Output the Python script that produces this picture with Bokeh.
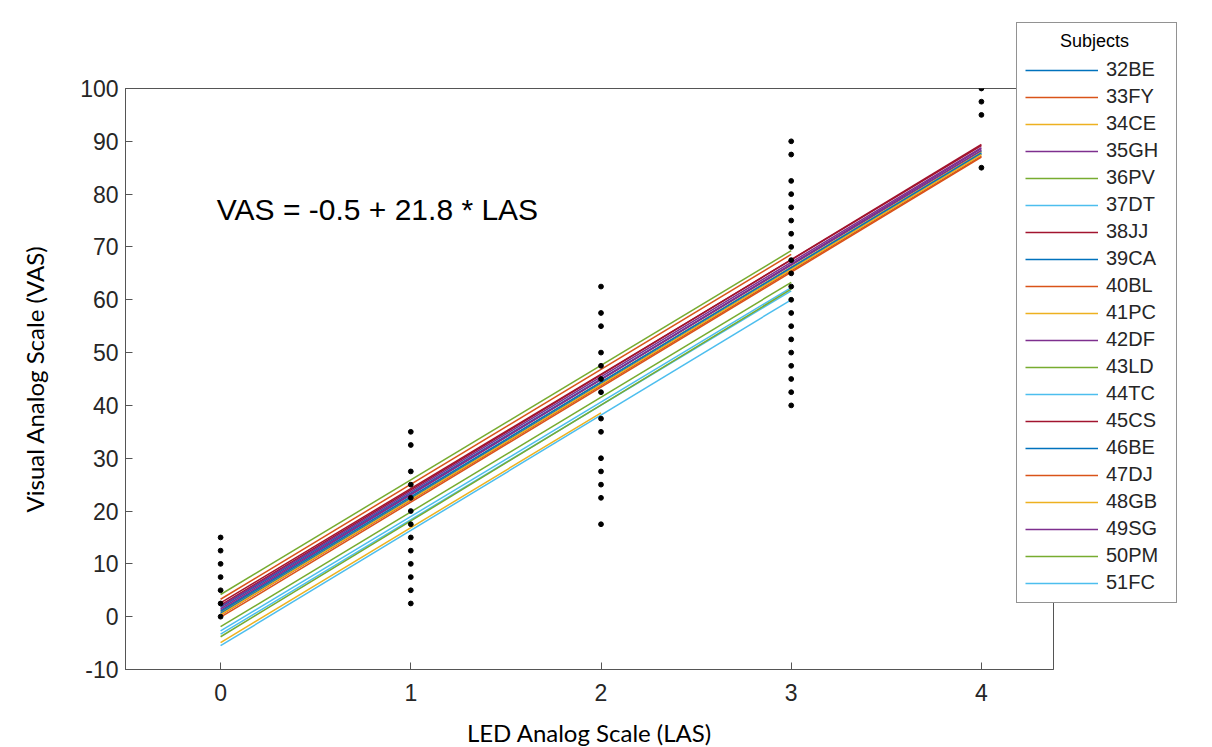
from bokeh.plotting import figure
from bokeh.models import FixedTicker, Label, Legend, LegendItem, CustomJSTickFormatter
from bokeh.embed import file_html
from bokeh.resources import INLINE

# ---- data ----
subjects = ["32BE", "33FY", "34CE", "35GH", "36PV", "37DT", "38JJ", "39CA", "40BL", "41PC",
            "42DF", "43LD", "44TC", "45CS", "46BE", "47DJ", "48GB", "49SG", "50PM", "51FC"]
# fitted line per subject: VAS at LAS=0, last LAS level, VAS at last LAS level
start_vas = [1.8, 3.3, 0.8, 1.2, 4.2, -2.7, 2.2, 0.6, -0.1, -4.9,
             1.5, -1.9, -3.3, 2.6, 1.0, 0.3, 0.4, 2.0, -3.8, -5.5]
end_las = [4, 3, 4, 4, 3, 3, 4, 4, 4, 2,
           4, 3, 3, 4, 4, 4, 4, 4, 3, 3]
end_vas = [88.2, 68.6, 88.0, 88.6, 69.3, 62.3, 89.4, 87.6, 87.0, 38.6,
           88.3, 63.3, 61.7, 89.2, 87.8, 87.2, 87.5, 88.8, 62.0, 60.0]

# observed ratings
obs_las = ([0] * 7 + [1] * 13 + [2] * 14 + [3] * 20 + [4] * 4)
obs_vas = ([15, 12.5, 10, 7.5, 5, 2.5, 0] +
           [35, 32.5, 27.5, 25, 22.5, 20, 17.5, 15, 12.5, 10, 7.5, 5, 2.5] +
           [62.5, 57.5, 55, 50, 47.5, 45, 42.5, 37.5, 35, 30, 27.5, 25, 22.5, 17.5] +
           [90, 87.5, 82.5, 80, 77.5, 75, 72.5, 70, 67.5, 65, 62.5, 60, 57.5, 55, 52.5,
            50, 47.5, 45, 42.5, 40] +
           [100, 97.5, 95, 85])

x_ticks = [0, 1, 2, 3, 4]
y_ticks = [-10, 0, 10, 20, 30, 40, 50, 60, 70, 80, 90, 100]
palette = ["#0072BD", "#D95319", "#EDB120", "#7E2F8E", "#77AC30", "#4DBEEE", "#A2142F"]

# ---- figure ----
p = figure(frame_width=928, frame_height=581, x_range=(-0.5, 4.379), y_range=(-10, 100),
           output_backend="svg", toolbar_location=None)
p.min_border_left = 125
p.min_border_top = 88
p.min_border_right = 0
p.min_border_bottom = 70
p.background_fill_color = "white"
p.border_fill_color = "white"
p.outline_line_color = "#555555"
p.outline_line_width = 1
p.grid.visible = False

for ax in (p.xaxis[0], p.yaxis[0]):
    ax.axis_line_color = "#555555"
    ax.major_tick_line_color = "#555555"
    ax.major_tick_in = 7
    ax.major_tick_out = 0
    ax.minor_tick_line_color = None
    ax.major_label_text_font = "Liberation Sans"
    ax.major_label_text_font_size = "23px"
    ax.major_label_text_color = "#262626"
    ax.axis_label_text_font = "Lato"
    ax.axis_label_text_font_size = "24px"
    ax.axis_label_text_font_style = "normal"
    ax.axis_label_text_color = "black"
    ax.formatter = CustomJSTickFormatter(code="return tick.toString();")

p.xaxis.ticker = FixedTicker(ticks=x_ticks)
p.yaxis.ticker = FixedTicker(ticks=y_ticks)
p.xaxis.axis_label = "LED Analog Scale (LAS)"
p.yaxis.axis_label = "Visual Analog Scale (VAS)"
p.xaxis.major_label_standoff = 14
p.yaxis.major_label_standoff = 7
p.xaxis.axis_label_standoff = 14
p.yaxis.axis_label_standoff = 28

items = []
for i, s in enumerate(subjects):
    r = p.line(x=[0, end_las[i]], y=[start_vas[i], end_vas[i]],
               line_color=palette[i % 7], line_width=1.5)
    items.append(LegendItem(label=s, renderers=[r]))

p.scatter(x=obs_las, y=obs_vas, size=4.8, color="black")

p.add_layout(Label(x=-0.02, y=77, text="VAS = -0.5 + 21.8 * LAS",
                   text_font="Liberation Sans", text_font_size="30px",
                   text_baseline="middle", text_color="black"))

legend = Legend(items=items, location=(-37, 66), title="\u00a0" * 7 + "Subjects")
legend.title_text_font = "Liberation Sans"
legend.title_text_font_size = "18px"
legend.title_text_font_style = "normal"
legend.title_text_color = "black"
legend.title_standoff = 6
legend.border_line_color = "#262626"
legend.border_line_width = 1
legend.background_fill_color = "white"
legend.background_fill_alpha = 1
legend.label_text_font = "Liberation Sans"
legend.label_text_font_size = "20px"
legend.label_text_color = "#262626"
legend.glyph_width = 73
legend.glyph_height = 20
legend.label_height = 20
legend.label_width = 62
legend.label_standoff = 8
legend.spacing = 4
legend.padding = 8
legend.margin = 0
p.add_layout(legend, "right")

open("out.html", "w").write(file_html(p, INLINE))
